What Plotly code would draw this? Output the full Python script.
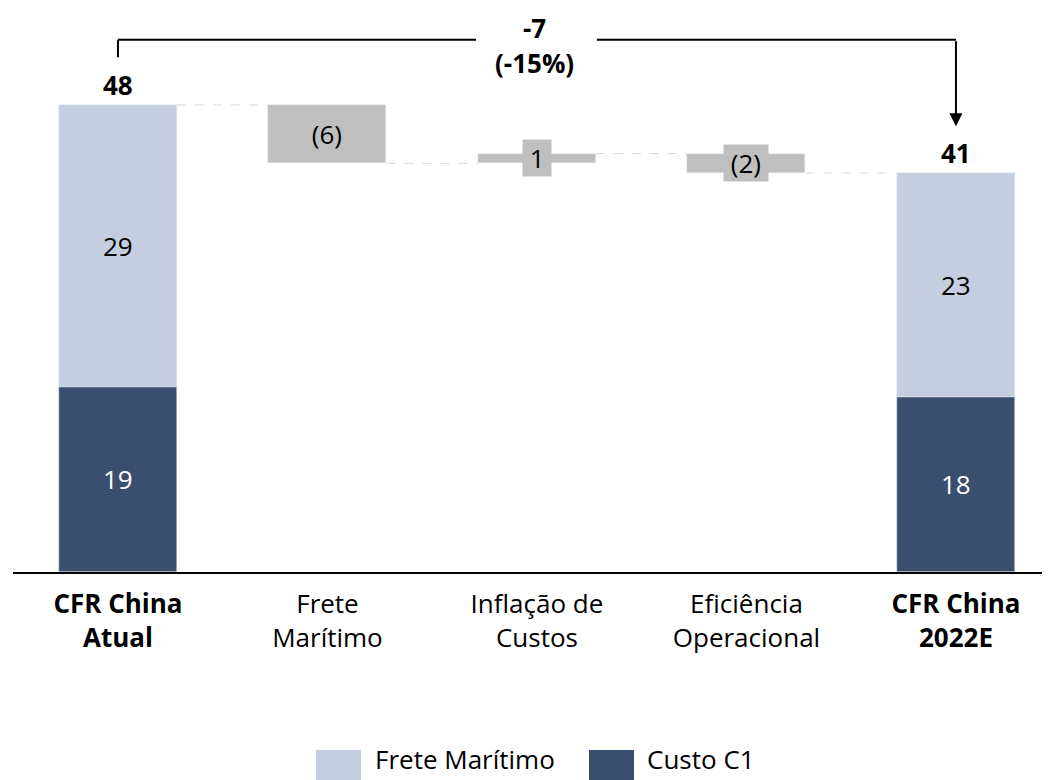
import plotly.graph_objects as go

# ---------------- data ----------------
categories = ["<b>CFR China<br>Atual</b>", "Frete<br>Marítimo", "Inflação de<br>Custos",
              "Eficiência<br>Operacional", "<b>CFR China<br>2022E</b>"]
start_c1 = 19
start_frete = 29
end_c1 = 18
end_frete = 23
deltas = [-6, 1, -2]
delta_labels = ["(6)", "1", "(2)"]
series_names = ["Frete Marítimo", "Custo C1"]

# ---------------- style ----------------
LIGHT = "#C4CEE0"
DARK = "#3A4E6D"
GRAY = "#BFBFBF"
FONT = "Open Sans"
FS = 26
BW = 0.563
OFF = 8          # page body margin in the browser
W, H = 1050 - OFF, 780 - OFF
AXIS_Y = 572 - OFF   # baseline in layout px
PX_PER_UNIT = 9.73

start_total = start_c1 + start_frete
end_total = end_c1 + end_frete
xs = list(range(len(categories)))

fig = go.Figure()

# Stacked total bars
fig.add_trace(go.Bar(x=[xs[0], xs[-1]], y=[start_c1, end_c1], base=[0, 0],
                     marker_color=DARK, width=BW, name=series_names[1],
                     text=[str(start_c1), str(end_c1)], textposition="inside",
                     insidetextanchor="middle", textangle=0,
                     textfont=dict(color="white", size=FS, family=FONT),
                     showlegend=False))
fig.add_trace(go.Bar(x=[xs[0], xs[-1]], y=[start_frete, end_frete], base=[start_c1, end_c1],
                     marker_color=LIGHT, width=BW, name=series_names[0],
                     text=[str(start_frete), str(end_frete)], textposition="inside",
                     insidetextanchor="middle", textangle=0,
                     textfont=dict(color="black", size=FS, family=FONT),
                     showlegend=False))

# Waterfall delta bars
levels = [start_total]
for d in deltas:
    levels.append(levels[-1] + d)
bases = [min(levels[i], levels[i + 1]) for i in range(len(deltas))]
heights = [abs(d) for d in deltas]
fig.add_trace(go.Bar(x=xs[1:-1], y=heights, base=bases, marker_color=GRAY, width=BW,
                     showlegend=False, name="delta"))

# Delta labels with gray boxes
for i, lab in enumerate(delta_labels):
    fig.add_annotation(x=xs[i + 1], y=bases[i] + heights[i] / 2, text="&nbsp;" + lab + "&nbsp;",
                       showarrow=False, bgcolor=GRAY,
                       font=dict(size=FS, family=FONT, color="black"), borderpad=0)

# Connector dashed lines
conn_levels = [start_total] + levels[1:-1] + [end_total]
for i in range(len(categories) - 1):
    fig.add_shape(type="line", xref="x", yref="y",
                  x0=xs[i] + BW / 2, x1=xs[i + 1] - BW / 2,
                  y0=conn_levels[i], y1=conn_levels[i],
                  line=dict(color="#D9D9D9", width=1, dash="dash"))

# Totals above bars
for x, tot in [(xs[0], start_total), (xs[-1], end_total)]:
    fig.add_annotation(x=x, y=tot, text=f"<b>{tot}</b>", showarrow=False, yanchor="bottom",
                       yshift=0, font=dict(size=FS, family=FONT, color="black"))

# Bracket with change
change = end_total - start_total
pct = round(change / start_total * 100)
bracket_y = 54.7
gap_l, gap_r = 1.709, 2.286
fig.add_shape(type="line", xref="x", yref="y", x0=xs[0], x1=xs[0], y0=start_total + 4.9, y1=bracket_y,
              line=dict(color="black", width=2))
fig.add_shape(type="line", xref="x", yref="y", x0=xs[0], x1=gap_l, y0=bracket_y, y1=bracket_y,
              line=dict(color="black", width=2))
fig.add_shape(type="line", xref="x", yref="y", x0=gap_r, x1=xs[-1], y0=bracket_y, y1=bracket_y,
              line=dict(color="black", width=2))
fig.add_annotation(x=xs[-1], y=end_total + 4.8, ax=xs[-1], ay=bracket_y, axref="x", ayref="y",
                   xref="x", yref="y", text="", showarrow=True, arrowhead=2, arrowsize=1.3,
                   arrowwidth=2, arrowcolor="black")
mid_x = (gap_l + gap_r) / 2 - 0.01
fig.add_annotation(x=mid_x, y=bracket_y, text=f"<b>{change}</b>", showarrow=False,
                   yanchor="middle", yshift=12,
                   font=dict(size=FS, family=FONT, color="black"))
fig.add_annotation(x=mid_x, y=bracket_y, text=f"<b>({pct}%)</b>", showarrow=False,
                   yanchor="middle", yshift=-23,
                   font=dict(size=FS, family=FONT, color="black"))

# Custom legend (large swatches as in the reference)
PLOT_W = W - 5
def px_to_paper_x(px):
    return (px - OFF - 5) / PLOT_W

def py_to_paper_y(py):
    return (AXIS_Y - (py - OFF)) / AXIS_Y

legend_items = [(316, 361, 373, LIGHT, series_names[0]), (589, 634, 645, DARK, series_names[1])]
for x0, x1, tx, col, name in legend_items:
    fig.add_shape(type="rect", xref="paper", yref="paper",
                  x0=px_to_paper_x(x0), x1=px_to_paper_x(x1),
                  y0=py_to_paper_y(800), y1=py_to_paper_y(750),
                  fillcolor=col, line=dict(width=0))
    fig.add_annotation(xref="paper", yref="paper", x=px_to_paper_x(tx), y=py_to_paper_y(759),
                       text=name, showarrow=False, xanchor="left", yanchor="middle",
                       font=dict(size=FS, family=FONT, color="black"))

fig.update_layout(
    width=W, height=H,
    margin=dict(l=5, r=0, t=0, b=H - AXIS_Y),
    plot_bgcolor="white", paper_bgcolor="white",
    barmode="overlay", bargap=0,
    showlegend=False,
    font=dict(family=FONT, size=FS, color="black"),
)
fig.update_xaxes(range=[-0.501, -0.501 + PLOT_W / 209.5], tickvals=xs, ticktext=categories,
                 showline=True, linecolor="black", linewidth=2, showgrid=False, zeroline=False,
                 ticks="", ticklabelstandoff=8, tickfont=dict(size=FS, family=FONT, color="black"))
fig.update_yaxes(range=[0, AXIS_Y / PX_PER_UNIT], visible=False, showgrid=False, zeroline=False)

fig.write_html("out.html")
